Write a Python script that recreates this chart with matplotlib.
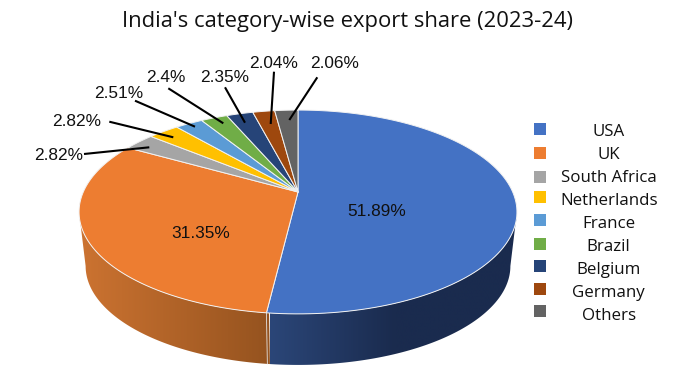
import numpy as np
import matplotlib
matplotlib.use('Agg')
import matplotlib.pyplot as plt
from matplotlib.colors import LinearSegmentedColormap
from matplotlib.patches import Polygon

countries = ['USA', 'UK', 'South Africa', 'Netherlands', 'France', 'Brazil', 'Belgium', 'Germany', 'Others']
share_labels = ['51.89%', '31.35%', '2.82%', '2.82%', '2.51%', '2.4%', '2.35%', '2.04%', '2.06%']
# slice sizes as they are drawn in the picture
slice_sizes = [51.89, 31.35, 2.76, 2.76, 2.47, 2.37, 2.37, 1.96, 2.07]
colors = ['#4472C4', '#ED7D31', '#A5A5A5', '#FFC000', '#5B9BD5', '#70AD47', '#264478', '#9E480E', '#636363']

# wall shading, colour at the left and right of the visible side
usa_wall = ['#2B4678', '#1A2B4E', '#1A2B4E']
uk_wall = ['#CC7331', '#95531F']


def project(theta, drop=0.0, scale=1.0):
    # circle seen in perspective, theta runs clockwise from the top
    k = 0.196
    d = 1 + k * np.cos(theta)
    x = 298 + scale * 214.7 * np.sin(theta) / d
    y = 192 + drop - scale * 98 * np.cos(theta) / d
    return x, y


fig = plt.figure(figsize=(6.8, 3.85), dpi=100)
ax = fig.add_axes([0, 0, 1, 1])
ax.axis('off')

edges = np.cumsum([0] + slice_sizes) / sum(slice_sizes) * 2 * np.pi
usa_end = edges[1]


def wall(t0, t1, cols, x0, x1):
    th = np.linspace(t0, t1, 200)
    xa, ya = project(th)
    xb, yb = project(th, 54.7, 0.97)
    pts = list(zip(xa, ya)) + list(zip(xb[::-1], yb[::-1]))
    patch = Polygon(pts, closed=True, fc='none', ec='none')
    ax.add_patch(patch)
    cmap = LinearSegmentedColormap.from_list('w', cols)
    im = ax.imshow(np.linspace(0, 1, 256).reshape(1, -1), cmap=cmap, extent=[x0, x1, 385, 0],
                   aspect='auto', interpolation='bilinear')
    im.set_clip_path(patch)


# sides of the wall start where the ellipse is widest
wall(np.radians(101.3), usa_end, usa_wall, 270, 520)
wall(usa_end - 0.01, np.radians(258.7), uk_wall, 80, 270)
ax.set_xlim(0, 680)
ax.set_ylim(385, 0)

x0, y0 = project(usa_end)
x1, y1 = project(usa_end, 54.7, 0.97)
ax.plot([x0, x1], [y0, y1], color='#E4E4E4', lw=0.6)

# top face
for i in range(len(slice_sizes)):
    th = np.linspace(edges[i], edges[i + 1], 120)
    xs, ys = project(th)
    pts = [project(0.0, 0, 0.0)] + list(zip(xs, ys))
    ax.add_patch(Polygon(pts, closed=True, fc=colors[i], ec='#F2F2F2', lw=0.7, joinstyle='round'))

ax.text(347, 21, "India's category-wise export share (2023-24)", ha='center', va='center',
        family='Open Sans', fontsize=15.8, color='#111111')

# data labels
label_x = [377, 201, 59, 77, 119, 166, 225, 274, 335]
label_y = [211, 233, 156, 121, 94, 78, 78, 63, 64]
for s, x, y in zip(share_labels, label_x, label_y):
    ax.text(x, y, s, ha='center', va='center', family='Liberation Sans', fontsize=12.4, color='#111111')

# leader lines
leaders = [((84, 154), (149.3, 147.3)), ((109.3, 121.7), (173.3, 137.3)), ((135, 100.7), (195, 126.7)),
           ((168.3, 88.3), (223.3, 123.3)), ((225, 87.3), (245, 122.7)), ((274, 71.7), (270.7, 124)),
           ((317.3, 77.3), (289.3, 120))]
for a, b in leaders:
    ax.plot([a[0], b[0]], [a[1], b[1]], color='black', lw=1.5, solid_capstyle='butt')

# legend
swatch_y = [129.3, 153.3, 177.3, 196.7, 220, 244, 265.7, 289.3, 311.3]
for i, name in enumerate(countries):
    ax.add_patch(plt.Rectangle((533.5, swatch_y[i] - 6), 12.5, 12, fc=colors[i], ec='none'))
    ax.text(608.7, 132.5 + 22.9 * i, name, ha='center', va='center', family='Open Sans',
            fontsize=12.2, color='#111111')

fig.savefig('out.png', dpi=100)
